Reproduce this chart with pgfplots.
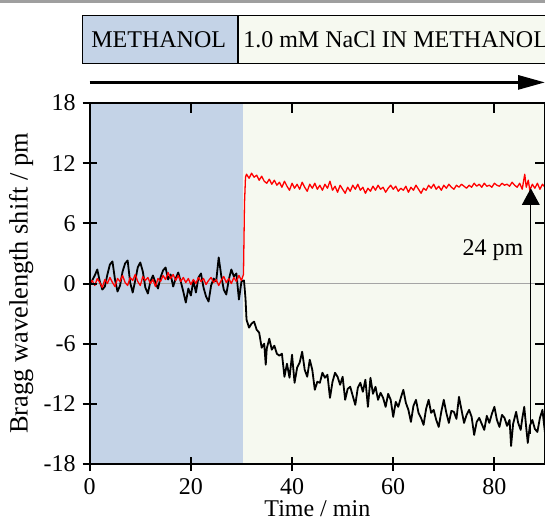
\documentclass[border=0pt]{standalone}
\usepackage{pgfplots}
\pgfplotsset{compat=1.18}
\usepackage{fontspec}
\setmainfont{Liberation Serif}
\usetikzlibrary{arrows.meta}
\definecolor{methblue}{RGB}{196,211,231}
\definecolor{saltgreen}{RGB}{246,249,240}
\definecolor{zerogray}{RGB}{165,165,165}

\pgfplotstableread{
t y
0 -0.2
0.5 0.3
1 0.8
1.5 1.4
2 0.2
2.5 -0.6
3 -0.3
3.5 0.9
4 1.9
4.5 2.2
5 0.4
5.5 -0.8
6 -0.2
6.5 1.2
7 2.0
7.5 2.3
8 0.1
8.5 -0.9
9 0.3
9.5 1.6
10 2.1
10.5 1.2
11 -0.4
11.5 -1.0
12 0.2
12.5 0.8
13 0.1
13.5 -0.5
14 0.6
14.5 1.3
15 1.6
15.5 0.4
16 0.9
16.5 -0.3
17 0.5
17.5 1.1
18 0.2
18.5 -0.8
19 -1.9
19.5 -0.5
20 -1.2
20.5 0.3
21 -0.9
21.5 0.6
22 1.0
22.5 -0.4
23 -1.3
23.5 -1.8
24 -0.2
24.5 0.5
25 0.2
25.5 2.6
26 0.8
26.5 -0.6
27 -1.1
27.5 0.4
28 1.4
28.5 0.7
29 1.0
29.5 -1.6
30 0.2
30.5 0.3
30.8 -1.5
31.0 -3.6
31.5 -4.4
32.0 -4.0
32.5 -3.8
33.0 -4.6
33.5 -4.9
34.0 -6.4
34.5 -6.0
34.8 -8.1
35.0 -6.5
35.5 -5.5
36.0 -6.6
36.5 -6.2
37.0 -7.0
37.5 -7.2
38.0 -7.0
38.5 -9.3
39.0 -8.0
39.5 -9.4
40.0 -7.1
40.5 -9.9
41.0 -8.4
41.5 -7.9
42.0 -6.8
42.5 -8.6
43.0 -9.3
43.5 -7.6
44.0 -8.6
44.5 -10.6
45.0 -9.8
45.5 -9.9
46.0 -8.9
46.5 -9.4
47.0 -9.1
47.5 -11.4
48.0 -9.8
48.5 -8.9
49.0 -9.3
49.5 -10.1
50.0 -9.3
50.5 -11.6
51.0 -10.5
51.5 -10.3
52.0 -11.2
52.5 -12.1
53.0 -10.4
53.5 -9.9
54.0 -10.8
54.5 -9.6
55.0 -12.3
55.5 -9.4
56.0 -11.0
56.5 -10.3
57.0 -11.6
57.5 -10.9
58.0 -11.4
58.5 -12.3
59.0 -11.0
59.5 -11.6
60.0 -13.3
60.5 -11.8
61.0 -12.3
61.5 -11.4
62.0 -10.6
62.5 -11.9
63.0 -12.6
63.5 -13.8
64.0 -12.2
64.5 -11.6
65.0 -12.9
65.5 -13.4
66.0 -14.1
66.5 -12.5
67.0 -11.6
67.5 -12.9
68.0 -12.6
68.5 -13.6
69.0 -14.3
69.5 -12.8
70.0 -11.6
70.5 -12.9
71.0 -13.9
71.5 -12.7
72.0 -12.8
72.5 -13.5
73.0 -11.3
73.5 -12.6
74.0 -13.9
74.5 -13.1
75.0 -12.6
75.5 -13.3
76.0 -15.1
76.5 -13.8
77.0 -13.4
77.5 -14.0
78.0 -14.6
78.5 -13.2
79.0 -13.9
79.5 -13.0
80.0 -12.3
80.5 -13.6
81.0 -14.3
81.5 -13.1
82.0 -13.4
82.5 -14.2
83.0 -13.6
83.3 -16.2
83.7 -14.0
84.3 -12.8
84.7 -13.9
85.2 -14.6
85.5 -13.5
85.9 -12.3
86.3 -14.4
86.6 -15.9
87.0 -14.2
87.5 -13.6
88.0 -14.5
88.5 -14.8
89.0 -13.4
89.5 -12.6
90.0 -14.9
}\blackdata

\pgfplotstableread{
t y
0 0.0
0.5 0.3
1 -0.2
1.5 0.5
2 0.1
2.5 -0.4
3 0.4
3.5 0.0
4 0.6
4.5 0.1
5 -0.3
5.5 0.5
6 0.2
6.5 0.8
7 0.1
7.5 -0.2
8 0.6
8.5 0.3
9 0.9
9.5 0.2
10 -0.2
10.5 0.7
11 0.3
11.5 0.6
12 0.0
12.5 0.4
13 -0.3
13.5 0.5
14 0.2
14.5 0.8
15 0.4
15.5 1.1
16 0.5
16.5 0.9
17 0.3
17.5 0.8
18 0.2
18.5 0.6
19 0.1
19.5 0.5
20 -0.1
20.5 0.4
21 0.0
21.5 0.6
22 0.2
22.5 0.5
23 -0.1
23.5 0.3
24 0.6
24.5 0.1
25 0.4
25.5 -0.2
26 0.3
26.5 0.7
27 0.1
27.5 0.5
28 0.0
28.5 0.6
29 0.2
29.5 0.8
30 0.3
30.4 0.9
30.6 8.0
30.8 10.6
31 10.9
31.5 10.5
32 11.0
32.5 10.6
33 10.8
33.5 10.3
34 10.7
34.5 10.2
35 10.0
35.5 10.4
36 9.9
36.5 10.3
37 9.8
37.5 10.1
38 9.6
38.5 10.2
39 9.7
39.5 9.3
40 10.0
40.5 9.5
41 9.9
41.5 9.4
42 10.1
42.5 9.6
43 9.2
43.5 9.9
44 9.5
44.5 10.0
45 9.4
45.5 9.8
46 9.3
46.5 9.9
47 9.5
47.5 10.2
48 9.3
48.5 9.7
49 9.1
49.5 9.8
50 9.4
50.5 9.0
51 9.6
51.5 9.2
52 9.8
52.5 9.4
53 9.9
53.5 9.3
54 9.6
54.5 9.0
55 9.5
55.5 9.2
56 9.7
56.5 9.3
57 9.8
57.5 9.4
58 9.6
58.5 9.1
59 9.5
59.5 9.8
60 9.4
60.5 9.7
61 9.2
61.5 9.5
62 9.3
62.5 9.7
63 9.1
63.5 9.6
64 9.3
64.5 9.8
65 9.4
65.5 9.0
66 9.5
66.5 9.3
67 9.8
67.5 9.5
68 9.9
68.5 9.4
69 9.7
69.5 9.3
70 9.8
70.5 9.5
71 9.9
71.5 9.6
72 9.4
72.5 9.8
73 9.6
73.5 9.9
74 9.7
74.5 9.5
75 9.8
75.5 9.6
76 10.0
76.5 9.7
77 9.9
77.5 9.6
78 10.0
78.5 9.7
79 9.8
79.5 9.6
80 10.0
80.5 9.8
81 9.7
81.5 10.0
82 9.8
82.5 9.9
83 9.7
83.5 10.1
84 9.8
84.5 9.6
85 10.0
85.5 9.4
86 10.9
86.3 9.6
86.7 10.3
87 9.3
87.5 9.9
88 9.5
88.5 10.0
89 9.4
89.5 9.9
90 9.6
}\reddata

\begin{document}
\begin{tikzpicture}[font=\fontsize{12}{14}\selectfont]
\useasboundingbox (-44.85pt,-28.5pt) rectangle (227.65pt,232pt);
\fill[gray!75] (-44.85pt,230.25pt) rectangle (227.65pt,232pt);
% solution boxes and time arrow
\draw[line width=0.75pt, fill=methblue] (-3.65pt,200.35pt) rectangle (74.15pt,224.2pt);
\draw[line width=0.75pt, fill=saltgreen] (74.15pt,200.35pt) rectangle (232pt,224.2pt);
\node[anchor=center] at (34.5pt,212.3pt) {METHANOL};
\node[anchor=west, inner sep=0pt] at (76.6pt,212.3pt) {1.0 mM NaCl IN METHANOL};
\draw[line width=1.5pt, -{Triangle[length=13.5pt,width=7pt]}] (0pt,190.8pt) -- (227.65pt,190.8pt);

\begin{axis}[
at={(0,0)}, anchor=south west,
scale only axis,
width=227.65pt, height=180.5pt,
xmin=0, xmax=90, ymin=-18, ymax=18,
xtick={0,20,40,60,80},
ytick={-18,-12,-6,0,6,12,18},
tick pos=left,
tick align=center,
major tick length=7pt,
axis on top,
axis line style={line width=1pt},
major tick style={line width=1pt, black},
/pgf/number format/assume math mode=true,
tick label style={font=\fontsize{12}{14}\selectfont},
xlabel={Time / min},
ylabel={Bragg wavelength shift / pm},
xlabel style={at={(axis description cs:0.5,-0.145)}, anchor=base, font=\fontsize{12}{14}\selectfont},
ylabel style={at={(axis description cs:-0.1507,0.5)}, anchor=center, font=\fontsize{13.2}{15}\selectfont},
]
\addplot[fill=methblue, draw=none] coordinates {(0,-18) (30.4,-18) (30.4,18) (0,18)} -- cycle;
\addplot[fill=saltgreen, draw=none] coordinates {(30.4,-18) (90,-18) (90,18) (30.4,18)} -- cycle;
\addplot[zerogray, line width=0.8pt] coordinates {(0,0) (90,0)};
\addplot[black, line width=0.9pt, line join=round] table[x=t, y=y] {\blackdata};
\addplot[red, line width=0.65pt, line join=round] table[x=t, y=y] {\reddata};
\draw[line width=0.65pt, -{Triangle[length=8.3pt,width=8.8pt]}] (axis cs:87.2,-15.0) -- (axis cs:87.2,9.5);
\node at (axis cs:79.7,3.3) {24 pm};
\end{axis}

\begin{axis}[
at={(0,0)}, anchor=south west,
scale only axis,
width=227.65pt, height=180.5pt,
xmin=0, xmax=90, ymin=-18, ymax=18,
xtick={0,20,40,60,80},
ytick={-18,-12,-6,0,6,12,18},
xtick pos=right, ytick pos=right,
tick align=inside,
major tick length=5pt,
xticklabels={}, yticklabels={},
axis line style={draw=none},
major tick style={line width=1pt, black},
]
\end{axis}
\end{tikzpicture}
\end{document}
